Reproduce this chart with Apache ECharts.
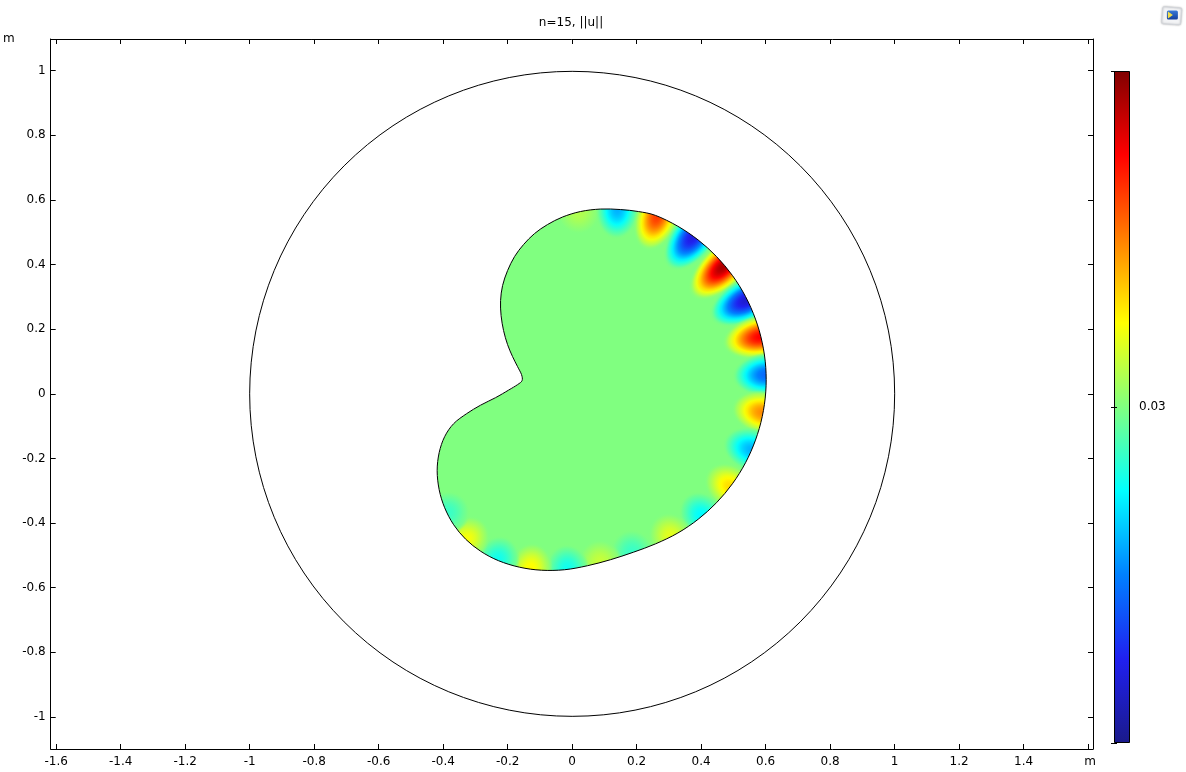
<!DOCTYPE html>
<html>
<head>
<meta charset="utf-8">
<title>n=15, ||u||</title>
<script src="https://cdn.jsdelivr.net/npm/echarts@6/dist/echarts.min.js"></script>
<style>
  html, body { margin: 0; padding: 0; background: #fff; }
  #chart { width: 1186px; height: 772px; }
</style>
</head>
<body>
<div id="chart"></div>
<script>
// kidney shaped domain, boundary (m), clockwise from the top
var boundaryX = [0.0876, 0.1495, 0.2053, 0.2588, 0.3276, 0.3910, 0.4477, 0.4969, 0.5375, 0.5684,
  0.5895, 0.6003, 0.6003, 0.5895, 0.5684, 0.5375, 0.4969, 0.4477, 0.3910, 0.3276,
  0.2588, 0.1898, 0.1186, 0.0474, -0.0238, -0.0950, -0.1631, -0.2282, -0.2839, -0.3303,
  -0.3675, -0.3954, -0.4124, -0.4186, -0.4124, -0.3954, -0.3675, -0.3272, -0.2839, -0.2375,
  -0.1972, -0.1693, -0.1554, -0.1570, -0.1693, -0.1848, -0.2003, -0.2127, -0.2204, -0.2220,
  -0.2158, -0.2003, -0.1786, -0.1508, -0.1167, -0.0765, -0.0300, 0.0257];
var boundaryY = [0.5718, 0.5703, 0.5641, 0.5520, 0.5186, 0.4759, 0.4248, 0.3663, 0.3012, 0.2313,
  0.1579, 0.0820, 0.0059, -0.0700, -0.1433, -0.2133, -0.2783, -0.3368, -0.3879, -0.4307,
  -0.4641, -0.4901, -0.5133, -0.5319, -0.5443, -0.5458, -0.5365, -0.5164, -0.4870, -0.4498,
  -0.4050, -0.3523, -0.2966, -0.2378, -0.1820, -0.1325, -0.0923, -0.0613, -0.0350, -0.0118,
  0.0115, 0.0285, 0.0409, 0.0594, 0.0842, 0.1152, 0.1523, 0.1957, 0.2421, 0.2885,
  0.3350, 0.3814, 0.4248, 0.4619, 0.4960, 0.5238, 0.5471, 0.5641];

// outer circle
var circleCenter = [0, 0];
var circleRadius = 1;

// ||u|| inside the domain, and the peaks/dips along the boundary (n=15 mode)
var interiorValue = 0.03;
var spotX = [0.0195, 0.1402, 0.2641, 0.3755, 0.4684, 0.5427, 0.5851, 0.6015, 0.5920, 0.5570,
  0.4901, 0.4034, 0.3065, 0.1867, 0.0876, -0.0146, -0.1291, -0.2313, -0.3288, -0.3876];
var spotY = [0.5625, 0.5703, 0.5502, 0.4873, 0.3938, 0.2910, 0.1771, 0.0594, -0.0582, -0.1728,
  -0.2873, -0.3777, -0.4421, -0.4910, -0.5220, -0.5427, -0.5412, -0.5149, -0.4514, -0.3678];
var spotValue = [0.03004, 0.02984, 0.030256, 0.02968, 0.030368, 0.029664, 0.030304, 0.029776, 0.030192, 0.02984,
  0.030128, 0.029896, 0.03008, 0.029944, 0.030056, 0.029912, 0.030104, 0.029912, 0.030096, 0.029944];

// colour range and its single labelled tick
var colorMin = 0.0296;
var colorMax = 0.0304;
var colorTicks = [0.03];

// rainbow colour table, evenly spaced
var colorTable = ['#1a1a8a', '#2020f0', '#0080ff', '#00ffff', '#80ff80', '#ffff00', '#ff8000', '#ff0000', '#800000'];

function cmap(v) {
  var t = (v - colorMin) / (colorMax - colorMin);
  t = Math.max(0, Math.min(1, t));
  return echarts.color.lerp(t, colorTable);
}

// peak value at the centre, back to the interior value at the rim
function spotGradient(v) {
  var stops = [];
  for (var k = 0; k <= 12; k++) {
    var t = k / 12;
    var w = Math.pow(Math.cos(Math.PI * t / 2), 1.5);
    var val = interiorValue + (v - interiorValue) * w;
    var a = t < 0.85 ? 1 : (1 - t) / 0.15;
    stops.push({ offset: t, color: echarts.color.modifyAlpha(cmap(val), a) });
  }
  return new echarts.graphic.RadialGradient(0.5, 0.5, 0.5, stops);
}

// closed catmull-rom curve through the pixel points
function smoothClosedPath(pts) {
  var n = pts.length;
  var d = 'M' + pts[0][0] + ',' + pts[0][1];
  for (var i = 0; i < n; i++) {
    var p0 = pts[(i - 1 + n) % n], p1 = pts[i], p2 = pts[(i + 1) % n], p3 = pts[(i + 2) % n];
    var c1x = p1[0] + (p2[0] - p0[0]) / 6, c1y = p1[1] + (p2[1] - p0[1]) / 6;
    var c2x = p2[0] - (p3[0] - p1[0]) / 6, c2y = p2[1] - (p3[1] - p1[1]) / 6;
    d += ' C' + c1x + ',' + c1y + ' ' + c2x + ',' + c2y + ' ' + p2[0] + ',' + p2[1];
  }
  return d + ' Z';
}

var kidneyData = boundaryX.map(function (x, i) { return [x, boundaryY[i]]; });

function kidneyPixels(api) {
  return kidneyData.map(function (p) { return api.coord(p); });
}

// screen angle of the boundary tangent closest to (x, y)
function boundaryAngle(api, x, y) {
  var n = boundaryX.length, best = 0, bd = Infinity;
  for (var i = 0; i < n; i++) {
    var dx = boundaryX[i] - x, dy = boundaryY[i] - y, d = dx * dx + dy * dy;
    if (d < bd) { bd = d; best = i; }
  }
  var a = api.coord(kidneyData[(best - 1 + n) % n]);
  var b = api.coord(kidneyData[(best + 1) % n]);
  return Math.atan2(-(b[1] - a[1]), b[0] - a[0]);
}

var spotData = spotX.map(function (x, i) { return [x, spotY[i], spotValue[i]]; });

function tickLabel(v) {
  var k = Math.round(v / 0.2);
  return Math.abs(v - k * 0.2) < 1e-6 ? String(+(k * 0.2).toFixed(1)) : '';
}

var labelFont = { color: '#000', fontSize: 12, fontFamily: 'DejaVu Sans' };
var frameLine = { show: true, onZero: false, lineStyle: { color: '#000', width: 1 } };
var frameTick = { show: true, inside: true, length: 5, lineStyle: { color: '#000', width: 1 } };

var xRange = [-1.617, 1.615];
var yRange = [-1.099, 1.098];

var chart = echarts.init(document.getElementById('chart'), null, { renderer: 'canvas' });

var option = {
  animation: false,
  backgroundColor: '#fff',
  title: {
    text: 'n=15, ||u||',
    left: 571,
    top: 17,
    padding: 0,
    textAlign: 'center',
    textStyle: { fontSize: 12, fontWeight: 'normal', color: '#000', fontFamily: 'DejaVu Sans' }
  },
  grid: [
    { left: 49, top: 39, width: 1044, height: 710 },
    { left: 1114, top: 71, width: 16, height: 672 }
  ],
  xAxis: [
    {
      gridIndex: 0, type: 'value', position: 'bottom', min: xRange[0], max: xRange[1],
      minInterval: 0.2, maxInterval: 0.2, splitNumber: 16,
      axisLine: frameLine, axisTick: frameTick, splitLine: { show: false },
      axisLabel: Object.assign({ margin: 7, showMinLabel: false, showMaxLabel: false,
        formatter: function (v) { return Math.abs(v - 1.6) < 1e-6 ? '' : tickLabel(v); } }, labelFont),
      name: 'm', nameLocation: 'end', nameGap: -3,
      nameTextStyle: Object.assign({ align: 'center', verticalAlign: 'top', padding: [7, 0, 0, 0] }, labelFont)
    },
    {
      gridIndex: 0, type: 'value', position: 'top', min: xRange[0], max: xRange[1],
      minInterval: 0.2, maxInterval: 0.2, splitNumber: 16,
      axisLine: frameLine, axisTick: frameTick, splitLine: { show: false }, axisLabel: { show: false }
    },
    {
      gridIndex: 1, type: 'value', min: 0, max: 1, show: false
    }
  ],
  yAxis: [
    {
      gridIndex: 0, type: 'value', position: 'left', min: yRange[0], max: yRange[1],
      minInterval: 0.2, maxInterval: 0.2, splitNumber: 11,
      axisLine: frameLine, axisTick: frameTick, splitLine: { show: false },
      axisLabel: Object.assign({ margin: 5, showMinLabel: false, showMaxLabel: false, formatter: tickLabel }, labelFont),
      name: 'm', nameLocation: 'end', nameGap: 0,
      nameTextStyle: Object.assign({ align: 'right', verticalAlign: 'middle', padding: [2, 36, 0, 0] }, labelFont)
    },
    {
      gridIndex: 0, type: 'value', position: 'right', min: yRange[0], max: yRange[1],
      minInterval: 0.2, maxInterval: 0.2, splitNumber: 11,
      axisLine: frameLine, axisTick: frameTick, splitLine: { show: false }, axisLabel: { show: false }
    },
    {
      gridIndex: 1, type: 'value', position: 'right', min: colorMin, max: colorMax, z: 10,
      minInterval: 0.0004, maxInterval: 0.0004,
      axisLine: { show: false }, splitLine: { show: false },
      axisTick: { show: true, inside: true, length: 3, lineStyle: { color: '#000' } },
      axisLabel: Object.assign({ margin: 9, formatter: function (v) {
        for (var i = 0; i < colorTicks.length; i++) {
          if (Math.abs(v - colorTicks[i]) < 1e-9) return String(colorTicks[i]);
        }
        return '';
      } }, labelFont)
    },
    {
      gridIndex: 1, type: 'value', position: 'left', min: colorMin, max: colorMax, z: 10,
      minInterval: 0.0004, maxInterval: 0.0004,
      axisLine: { show: false }, splitLine: { show: false }, axisLabel: { show: false },
      axisTick: { show: true, inside: true, length: 3, lineStyle: { color: '#000' } }
    }
  ],
  graphic: [
    {
      type: 'group', left: 1161, top: 6, silent: true,
      children: [
        { type: 'rect', shape: { x: 0, y: 0, width: 19, height: 17, r: 2 }, rotation: -0.08,
          style: { fill: '#f3f4f6', stroke: '#d3d6db', shadowBlur: 2, shadowColor: 'rgba(0,0,0,0.25)' } },
        { type: 'rect', shape: { x: 4, y: 4, width: 11, height: 9, r: 1.5 },
          style: { fill: new echarts.graphic.LinearGradient(0, 0, 0, 1, [
            { offset: 0, color: '#3a7ad8' }, { offset: 1, color: '#143f9c' }]) } },
        { type: 'polygon', shape: { points: [[5, 5], [10, 8.5], [5, 12]] }, style: { fill: '#f2de4a' } }
      ]
    }
  ],
  series: [
    {
      // domain fill
      type: 'custom', xAxisIndex: 0, yAxisIndex: 0, z: 2, silent: true,
      data: kidneyData,
      renderItem: function (params, api) {
        if (params.dataIndex !== 0) return null;
        return { type: 'path', shape: { pathData: smoothClosedPath(kidneyPixels(api)) },
          style: { fill: cmap(interiorValue), stroke: null } };
      }
    },
    {
      // boundary peaks and dips, stretched inwards along the normal
      type: 'custom', xAxisIndex: 0, yAxisIndex: 0, z: 3, silent: true,
      data: spotData,
      renderItem: function (params, api) {
        var x = api.value(0), y = api.value(1), v = api.value(2);
        var p = api.coord([x, y]);
        var strength = Math.min(1, Math.abs(v - interiorValue) / ((colorMax - colorMin) / 2));
        var along = 22, depth = 20 + 26 * strength, R = 50;
        return { type: 'circle', x: p[0], y: p[1], rotation: boundaryAngle(api, x, y),
          scaleX: along / R, scaleY: depth / R,
          shape: { cx: 0, cy: 0, r: R }, style: { fill: spotGradient(v), stroke: null } };
      }
    },
    {
      // white outside the domain
      type: 'custom', xAxisIndex: 0, yAxisIndex: 0, z: 4, silent: true,
      data: [[0, 0]],
      renderItem: function (params, api) {
        var tl = api.coord([-0.62, 0.75]), bl = api.coord([-0.62, -0.75]);
        var br = api.coord([0.82, -0.75]), tr = api.coord([0.82, 0.75]);
        var d = 'M' + tl[0] + ',' + tl[1] + ' L' + bl[0] + ',' + bl[1] + ' L' + br[0] + ',' + br[1] +
          ' L' + tr[0] + ',' + tr[1] + ' Z ' + smoothClosedPath(kidneyPixels(api));
        return { type: 'path', shape: { pathData: d }, style: { fill: '#fff', stroke: null } };
      }
    },
    {
      // domain outline
      type: 'custom', xAxisIndex: 0, yAxisIndex: 0, z: 5, silent: true,
      data: kidneyData,
      renderItem: function (params, api) {
        if (params.dataIndex !== 0) return null;
        return { type: 'path', shape: { pathData: smoothClosedPath(kidneyPixels(api)) },
          style: { fill: null, stroke: '#000', lineWidth: 1 } };
      }
    },
    {
      // outer circle
      type: 'custom', xAxisIndex: 0, yAxisIndex: 0, z: 5, silent: true,
      data: [[circleCenter[0], circleCenter[1], circleRadius]],
      renderItem: function (params, api) {
        var c = api.coord([api.value(0), api.value(1)]);
        var r = api.size([api.value(2), api.value(2)]);
        return { type: 'circle', shape: { cx: c[0], cy: c[1], r: r[0] },
          style: { fill: null, stroke: '#000', lineWidth: 1 } };
      }
    },
    {
      // colour bar
      type: 'custom', xAxisIndex: 2, yAxisIndex: 2, z: 2, silent: true,
      data: [[0, colorMin, 1, colorMax]],
      renderItem: function (params, api) {
        var p0 = api.coord([api.value(0), api.value(3)]);
        var p1 = api.coord([api.value(2), api.value(1)]);
        var stops = colorTable.map(function (c, i) {
          return { offset: 1 - i / (colorTable.length - 1), color: c };
        }).reverse();
        return { type: 'rect',
          shape: { x: Math.round(p0[0]) + 0.5, y: Math.round(p0[1]) + 0.5,
            width: Math.round(p1[0] - p0[0]) - 1, height: Math.round(p1[1] - p0[1]) - 1 },
          style: { fill: new echarts.graphic.LinearGradient(0, 0, 0, 1, stops), stroke: '#000', lineWidth: 1 } };
      }
    }
  ]
};

chart.setOption(option);
</script>
</body>
</html>
